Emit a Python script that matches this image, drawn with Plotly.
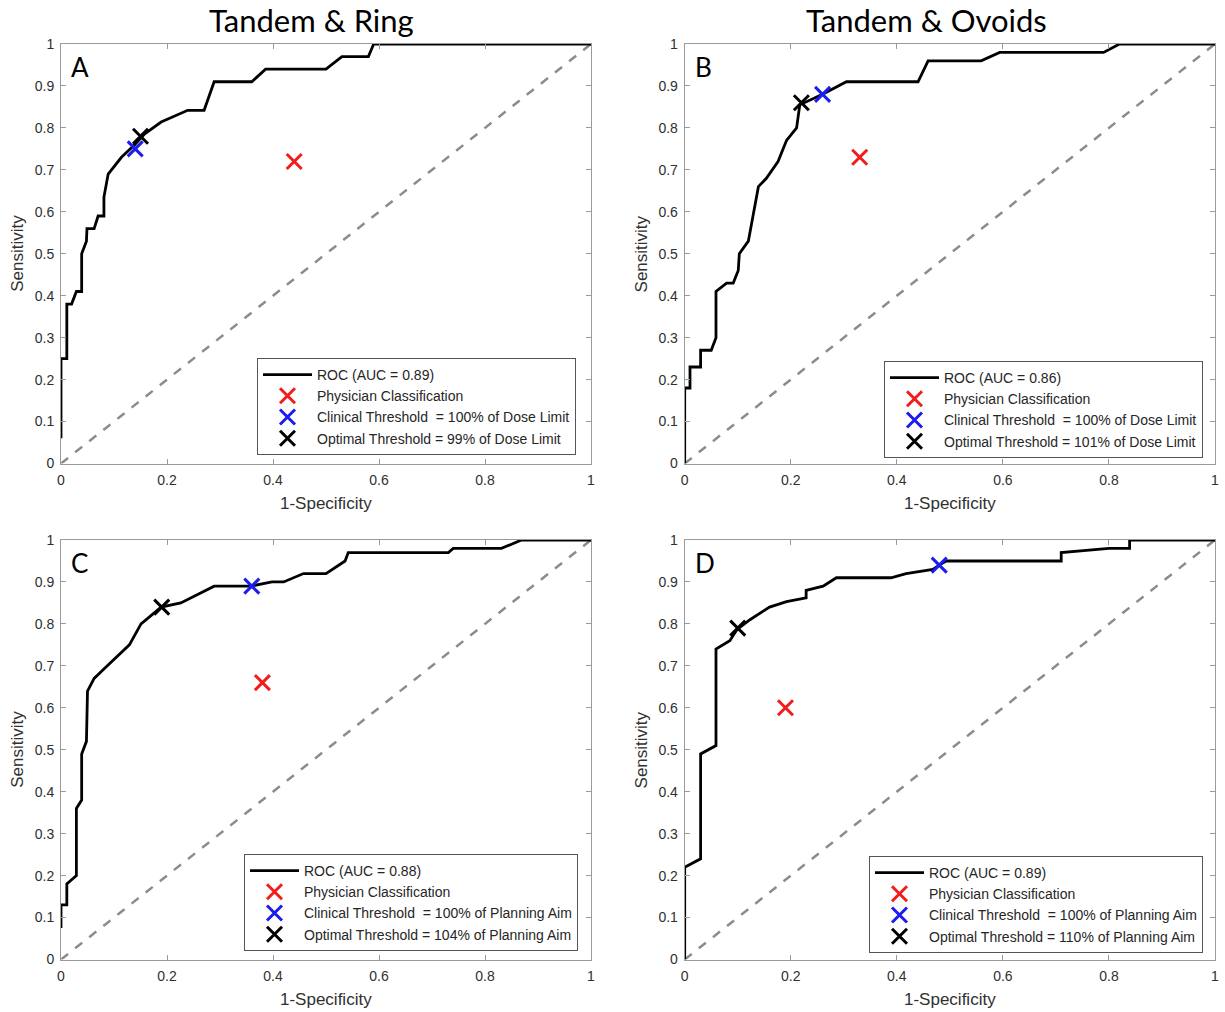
import plotly.graph_objects as go

# ---------------- data ----------------
a_fpr = [0, 0, 0.011, 0.011, 0.02, 0.029, 0.039, 0.039, 0.048, 0.049, 0.0625, 0.07, 0.081, 0.081, 0.089,
         0.114, 0.139, 0.158, 0.189, 0.239, 0.27, 0.289, 0.36, 0.386, 0.50, 0.53, 0.58, 0.59, 1.0]
a_tpr = [0.06, 0.25, 0.25, 0.38, 0.38, 0.41, 0.41, 0.50, 0.53, 0.56, 0.56, 0.59, 0.59, 0.635, 0.69,
         0.73, 0.76, 0.786, 0.814, 0.842, 0.842, 0.91, 0.91, 0.94, 0.94, 0.97, 0.97, 1.0, 1.0]

b_fpr = [0, 0, 0.01, 0.01, 0.03, 0.03, 0.05, 0.059, 0.059, 0.079, 0.0915, 0.101, 0.103, 0.12, 0.139,
         0.154, 0.176, 0.192, 0.211, 0.217, 0.26, 0.305, 0.44, 0.459, 0.559, 0.594, 0.79, 0.82, 1.0]
b_tpr = [0, 0.18, 0.18, 0.23, 0.23, 0.27, 0.27, 0.30, 0.41, 0.43, 0.43, 0.46, 0.50, 0.53, 0.66,
         0.68, 0.72, 0.77, 0.80, 0.855, 0.88, 0.91, 0.91, 0.96, 0.96, 0.98, 0.98, 1.0, 1.0]

c_fpr = [0, 0, 0.011, 0.011, 0.02, 0.029, 0.029, 0.039, 0.039, 0.048, 0.05, 0.0625, 0.079, 0.104, 0.129,
         0.151, 0.189, 0.226, 0.289, 0.3575, 0.398, 0.42, 0.4575, 0.50, 0.536, 0.542, 0.731, 0.74, 0.831, 0.869, 1.0]
c_tpr = [0.075, 0.13, 0.13, 0.18, 0.19, 0.20, 0.36, 0.38, 0.49, 0.52, 0.64, 0.67, 0.69, 0.72, 0.75,
         0.80, 0.84, 0.85, 0.89, 0.89, 0.90, 0.90, 0.92, 0.92, 0.95, 0.97, 0.97, 0.98, 0.98, 1.0, 1.0]

d_fpr = [0, 0, 0.03, 0.03, 0.059, 0.059, 0.085, 0.099, 0.123, 0.16, 0.192, 0.229, 0.229, 0.261, 0.286,
         0.389, 0.4175, 0.468, 0.48, 0.493, 0.71, 0.71, 0.80, 0.839, 0.839, 1.0]
d_tpr = [0, 0.22, 0.24, 0.49, 0.51, 0.74, 0.76, 0.787, 0.81, 0.84, 0.853, 0.862, 0.88, 0.89, 0.91,
         0.91, 0.92, 0.93, 0.94, 0.95, 0.95, 0.97, 0.98, 0.98, 1.0, 1.0]

# points: (fpr, tpr) for physician, clinical, optimal
physician = {"A": (0.44, 0.72), "B": (0.33, 0.73), "C": (0.38, 0.66), "D": (0.19, 0.60)}
clinical = {"A": (0.14, 0.75), "B": (0.26, 0.88), "C": (0.36, 0.89), "D": (0.48, 0.94)}
optimal = {"A": (0.15, 0.78), "B": (0.22, 0.86), "C": (0.19, 0.84), "D": (0.10, 0.79)}

auc = {"A": "0.89", "B": "0.86", "C": "0.88", "D": "0.89"}
clinical_txt = {"A": "100% of Dose Limit", "B": "100% of Dose Limit",
                "C": "100% of Planning Aim", "D": "100% of Planning Aim"}
optimal_txt = {"A": "99% of Dose Limit", "B": "101% of Dose Limit",
               "C": "104% of Planning Aim", "D": "110% of Planning Aim"}
curves = {"A": (a_fpr, a_tpr), "B": (b_fpr, b_tpr), "C": (c_fpr, c_tpr), "D": (d_fpr, d_tpr)}

col_titles = ["Tandem & Ring", "Tandem & Ovoids"]
x_ticks = [0, 0.2, 0.4, 0.6, 0.8, 1]
x_ticktext = ["0", "0.2", "0.4", "0.6", "0.8", "1"]
y_ticks = [0, 0.1, 0.2, 0.3, 0.4, 0.5, 0.6, 0.7, 0.8, 0.9, 1]
y_ticktext = ["0", "0.1", "0.2", "0.3", "0.4", "0.5", "0.6", "0.7", "0.8", "0.9", "1"]

# ---------------- layout geometry ----------------
W, H = 1225, 1012
px_x = {"L": (61, 591), "R": (684.7, 1215)}
px_y = {"T": (44, 463.5), "B": (540, 959.5)}
panels = {"A": ("L", "T", 1), "B": ("R", "T", 2), "C": ("L", "B", 3), "D": ("R", "B", 4)}
legend_pos = {"A": (576, 406.5), "B": (1203, 409.5), "C": (578, 902.5), "D": (1203, 904.5)}

AX_FONT = "Arial, 'Liberation Sans', sans-serif"
TITLE_FONT = "Lato, 'Open Sans', sans-serif"
FRAME = "#9a9a9a"

fig = go.Figure()
layout = dict(width=W, height=H, margin=dict(l=0, r=0, t=0, b=0, pad=0, autoexpand=False),
              paper_bgcolor="white", plot_bgcolor="white", annotations=[])

for key, (cx, cy, n) in panels.items():
    xs = "" if n == 1 else str(n)
    xref, yref = "x" + xs, "y" + xs
    lg = "legend" + ("" if n == 1 else str(n))
    fpr, tpr = curves[key]
    fig.add_trace(go.Scatter(x=[0, 1], y=[0, 1], mode="lines", xaxis=xref, yaxis=yref,
                             line=dict(color="#8c8c8c", width=2.5, dash="dash"),
                             showlegend=False, hoverinfo="skip"))
    fig.add_trace(go.Scatter(x=fpr, y=tpr, mode="lines", xaxis=xref, yaxis=yref,
                             line=dict(color="black", width=2.8),
                             name=f"ROC (AUC = {auc[key]})", legend=lg))
    for pts, color, label in [
        (physician, "#f21c1c", "Physician Classification"),
        (clinical, "#1c1cf2", "Clinical Threshold\u00a0 = " + clinical_txt[key]),
        (optimal, "#000000", "Optimal Threshold = " + optimal_txt[key]),
    ]:
        fig.add_trace(go.Scatter(x=[pts[key][0]], y=[pts[key][1]], mode="markers",
                                 xaxis=xref, yaxis=yref, cliponaxis=False,
                                 marker=dict(symbol="x-thin-open", size=15, color=color,
                                             line=dict(color=color, width=3)),
                                 name=label, legend=lg))
    x0, x1 = px_x[cx]
    y0, y1 = px_y[cy]
    xd = [x0 / W, x1 / W]
    yd = [1 - y1 / H, 1 - y0 / H]
    common = dict(showline=True, linecolor=FRAME, linewidth=1, mirror="ticks",
                  ticks="inside", ticklen=5, tickcolor=FRAME, showgrid=False,
                  zeroline=False, fixedrange=True, range=[0, 1], automargin=False,
                  tickfont=dict(family=AX_FONT, size=14, color="#303030"))
    layout["xaxis" + xs] = dict(domain=xd, anchor=yref, tickvals=x_ticks, ticktext=x_ticktext,
                                ticklabelstandoff=4, **common)
    layout["yaxis" + xs] = dict(domain=yd, anchor=xref, tickvals=y_ticks, ticktext=y_ticktext,
                                ticklabelstandoff=3, **common)
    rx, cyl = legend_pos[key]
    layout[lg] = dict(x=rx / W, y=1 - cyl / H, xanchor="right", yanchor="middle",
                      bgcolor="white", bordercolor="#555555", borderwidth=1,
                      font=dict(family=AX_FONT, size=14, color="#262626"),
                      tracegroupgap=0, itemwidth=49)
    # panel letter
    layout["annotations"].append(dict(text=key, xref="paper", yref="paper",
                                      x=(x0 + 8) / W, y=1 - (y0 + 23) / H,
                                      xanchor="left", yanchor="middle", showarrow=False,
                                      font=dict(family=TITLE_FONT, size=26, color="black")))
    # axis titles
    layout["annotations"].append(dict(text="1-Specificity", xref="paper", yref="paper",
                                      x=(x0 + x1) / 2 / W, y=1 - (y1 + 40) / H,
                                      xanchor="center", yanchor="middle", showarrow=False,
                                      font=dict(family=AX_FONT, size=17, color="#303030")))
    layout["annotations"].append(dict(text="Sensitivity", xref="paper", yref="paper",
                                      x=(x0 - 43) / W, y=1 - (y0 + y1) / 2 / H, textangle=-90,
                                      xanchor="center", yanchor="middle", showarrow=False,
                                      font=dict(family=AX_FONT, size=17, color="#303030")))

for title, cxp in zip(col_titles, [311, 926]):
    layout["annotations"].append(dict(text=title, xref="paper", yref="paper",
                                      x=cxp / W, y=1 - 20 / H, xanchor="center", yanchor="middle",
                                      showarrow=False,
                                      font=dict(family=TITLE_FONT, size=31, color="black")))

fig.update_layout(**layout)
fig.write_html("out.html")
